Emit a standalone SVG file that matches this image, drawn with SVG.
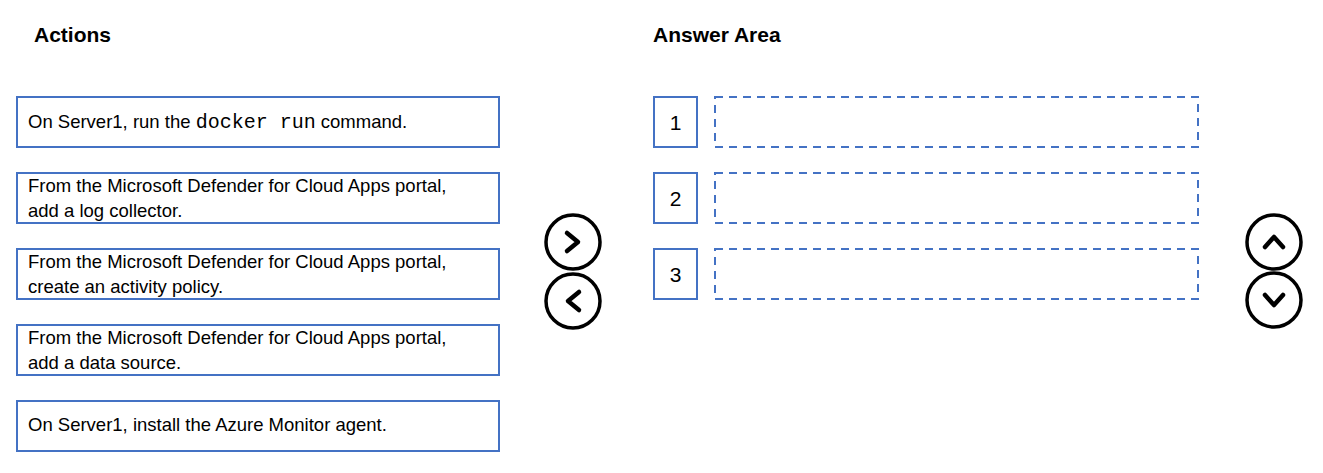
<svg xmlns="http://www.w3.org/2000/svg" width="1323" height="473" viewBox="0 0 1323 473">
<style>
.b{fill:#fff;stroke:#4472c4;stroke-width:2}
.d{fill:#fff;stroke:#4472c4;stroke-width:2;stroke-dasharray:8,6}
.t{font-family:"Liberation Sans",Arial,sans-serif;font-size:18.5px;fill:#000}
.h{font-family:"Liberation Sans",Arial,sans-serif;font-size:21px;font-weight:bold;fill:#000}
.m{font-family:"Liberation Mono",monospace;font-size:20px}
.n{font-family:"Liberation Sans",Arial,sans-serif;font-size:21px;fill:#000;text-anchor:middle}
.c{fill:#fff;stroke:#000;stroke-width:3.5}
.a{fill:none;stroke:#000;stroke-width:4.5;stroke-linecap:round;stroke-linejoin:round}
</style>
<rect width="1323" height="473" fill="#fff"/>
<text class="h" x="34" y="42">Actions</text>
<text class="h" x="653" y="42">Answer Area</text>
<g id="a1"><rect class="b" x="17" y="97" width="482" height="50"/><text class="t" x="28" y="128">On Server1, run the <tspan class="m">docker run</tspan> command.</text></g>
<g id="a2"><rect class="b" x="17" y="173" width="482" height="50"/><text class="t" x="28" y="192">From the Microsoft Defender for Cloud Apps portal,</text><text class="t" x="28" y="217">add a log collector.</text></g>
<g id="a3"><rect class="b" x="17" y="249" width="482" height="50"/><text class="t" x="28" y="268">From the Microsoft Defender for Cloud Apps portal,</text><text class="t" x="28" y="293">create an activity policy.</text></g>
<g id="a4"><rect class="b" x="17" y="325" width="482" height="50"/><text class="t" x="28" y="344">From the Microsoft Defender for Cloud Apps portal,</text><text class="t" x="28" y="369">add a data source.</text></g>
<g id="a5"><rect class="b" x="17" y="401" width="482" height="50"/><text class="t" x="28" y="431">On Server1, install the Azure Monitor agent.</text></g>
<g id="n1"><rect class="b" x="654" y="97" width="43" height="50"/><text class="n" x="675.5" y="130">1</text></g>
<g id="n2"><rect class="b" x="654" y="173" width="43" height="50"/><text class="n" x="675.5" y="206">2</text></g>
<g id="n3"><rect class="b" x="654" y="249" width="43" height="50"/><text class="n" x="675.5" y="282">3</text></g>
<g id="s1"><rect class="d" x="715" y="97" width="483" height="50"/></g>
<g id="s2"><rect class="d" x="715" y="173" width="483" height="50"/></g>
<g id="s3"><rect class="d" x="715" y="249" width="483" height="50"/></g>
<g id="btn-right"><circle class="c" cx="573" cy="242" r="27"/><path class="a" d="M567,233 L578,242 L567,251"/></g>
<g id="btn-left"><circle class="c" cx="573" cy="301" r="27"/><path class="a" d="M579,292 L568,301 L579,310"/></g>
<g id="btn-up"><circle class="c" cx="1274" cy="242" r="27"/><path class="a" d="M1265,247 L1274,237 L1283,247"/></g>
<g id="btn-down"><circle class="c" cx="1274" cy="300" r="27"/><path class="a" d="M1265,295 L1274,305 L1283,295"/></g>
<g id="connectors"/>
</svg>
